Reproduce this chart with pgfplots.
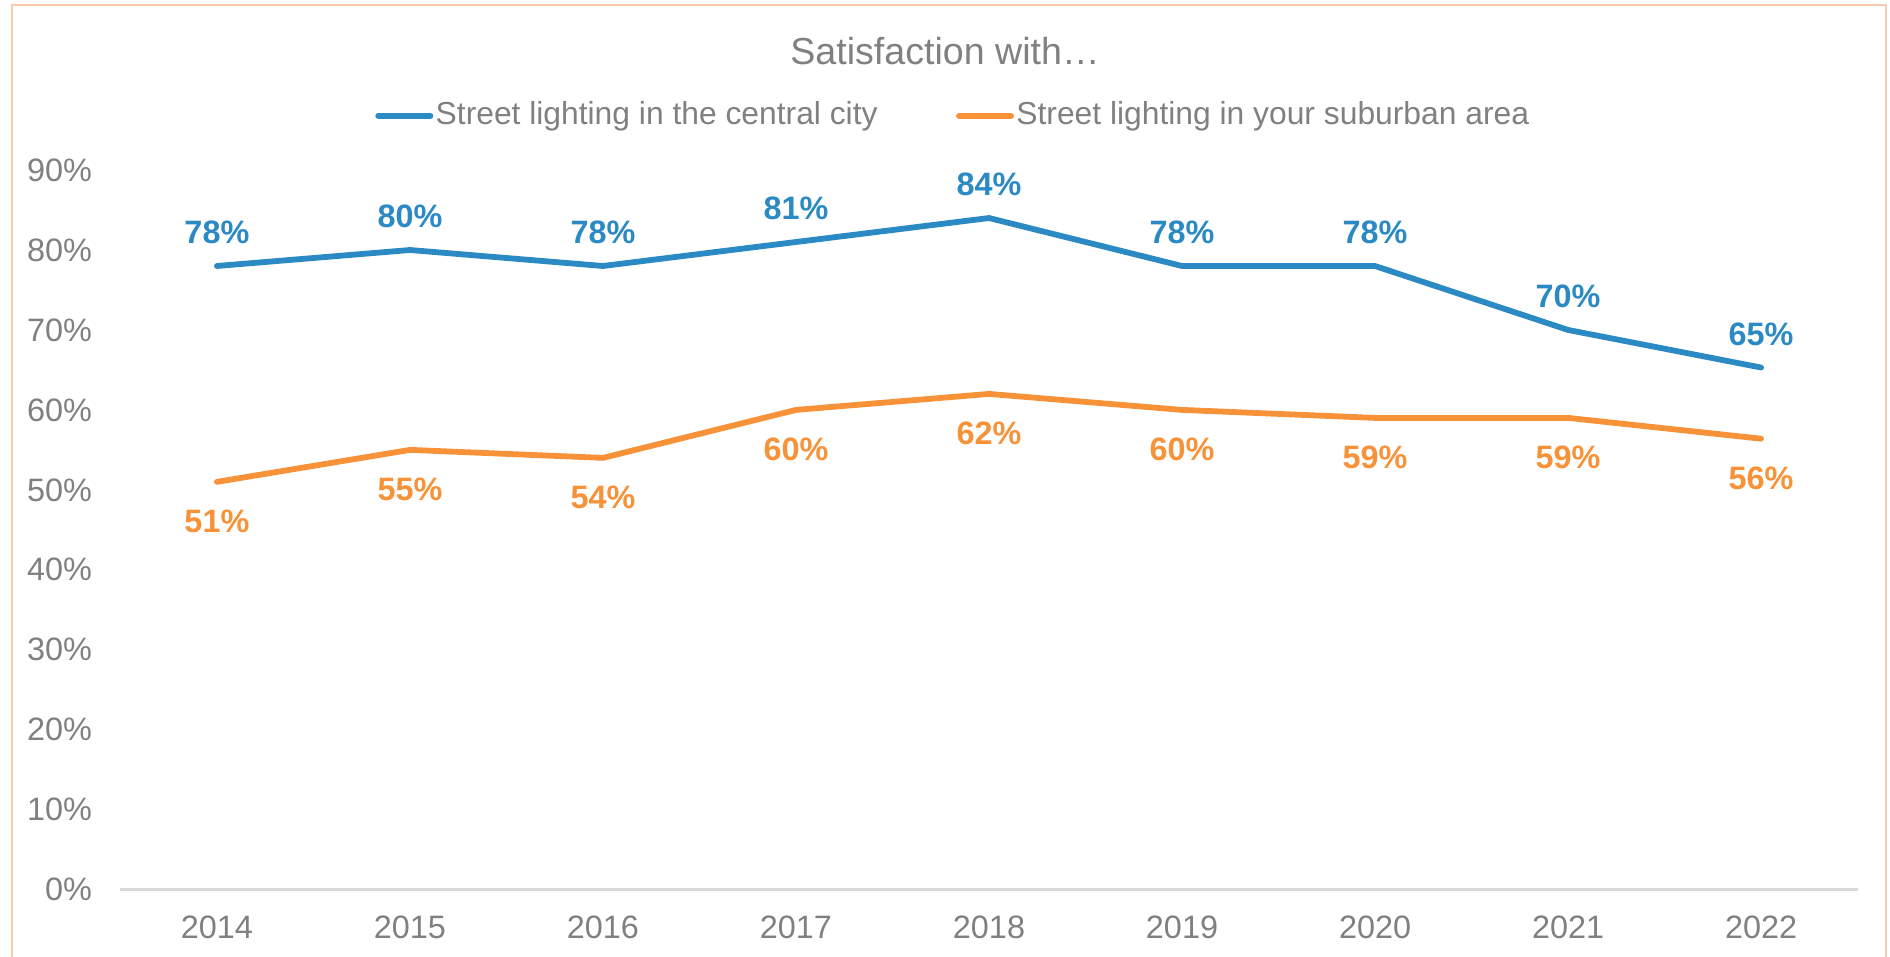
\documentclass[border=0pt]{standalone}
\usepackage{fontspec}
\setmainfont{Liberation Sans}
\usepackage{pgfplots}
\pgfplotsset{compat=1.18}
\definecolor{cblue}{HTML}{2B8AC4}
\definecolor{corange}{HTML}{F79239}
\definecolor{tgray}{HTML}{808080}
\definecolor{agray}{HTML}{D9D9D9}
\definecolor{bord}{HTML}{F8CBAD}
\begin{document}
\begin{tikzpicture}[x=1pt,y=1pt]
\useasboundingbox (0,0) rectangle (472.5,239);
\begin{scope}
\clip (0,0) rectangle (472.5,239);
\draw[bord, line width=0.6pt] (3,-2) -- (3,237.75) -- (471.5,237.75) -- (471.5,-2);
\end{scope}
\begin{axis}[
  at={(30.1pt,16.6pt)}, anchor=south west,
  width=434.3pt, height=179.9pt, scale only axis,
  xmin=-0.5, xmax=8.5, ymin=0, ymax=90,
  xtick={0,1,2,3,4,5,6,7,8},
  xticklabels={2014,2015,2016,2017,2018,2019,2020,2021,2022},
  ytick={0,10,20,30,40,50,60,70,80,90},
  yticklabel={\pgfmathprintnumber{\tick}\%},
  axis x line*=bottom, axis y line*=left,
  y axis line style={draw=none},
  x axis line style={agray, line width=0.6pt},
  major tick length=0pt, tick style={draw=none},
  /pgf/number format/assume math mode=true,
  tick label style={font=\fontsize{8.1}{9.7}\selectfont, text=tgray},
  yticklabel style={anchor=east, inner sep=0pt, xshift=-6.9pt},
  xticklabel style={anchor=base, inner sep=0pt, yshift=-12.3pt},
  clip=false,
  title={Satisfaction with…},
  title style={at={(axis description cs:0.4747,1.166)}, anchor=center, yshift=-6pt,
    font=\fontsize{9.4}{11}\selectfont, text=tgray, inner sep=0pt},
  legend columns=2,
  legend style={at={(axis description cs:0.4795,1.0756)}, anchor=center,
    draw=none, fill=none, font=\fontsize{7.95}{9.5}\selectfont, text=tgray,
    /tikz/every even column/.append style={column sep=19pt},
    inner sep=0pt, row sep=0pt, nodes={inner sep=0.6pt, text=tgray}},
  legend image code/.code={\draw[#1, line width=1.5pt, line cap=round] (0pt,0pt) -- (13pt,0pt);},
  nodes near coords={\pgfmathprintnumber[fixed,precision=0]{\pgfplotspointmeta}\%},
]
\addplot[cblue, line width=1.45pt, line cap=round, line join=round, mark=none,
  every node near coord/.append style={font=\bfseries\fontsize{8.1}{9.7}\selectfont,
    text=cblue, anchor=center, inner sep=0pt, yshift=8.4pt}]
  table[x=x, y=y] {
x y
0 78
1 80
2 78
3 81
4 84
5 78
6 78
7 70
8 65.3
};
\addlegendentry{Street lighting in the central city}
\addplot[corange, line width=1.45pt, line cap=round, line join=round, mark=none,
  every node near coord/.append style={font=\bfseries\fontsize{8.1}{9.7}\selectfont,
    text=corange, anchor=center, inner sep=0pt, yshift=-9.9pt}]
  table[x=x, y=y] {
x y
0 51
1 55
2 54
3 60
4 62
5 60
6 59
7 59
8 56.4
};
\addlegendentry{Street lighting in your suburban area}
\end{axis}
\end{tikzpicture}
\end{document}
